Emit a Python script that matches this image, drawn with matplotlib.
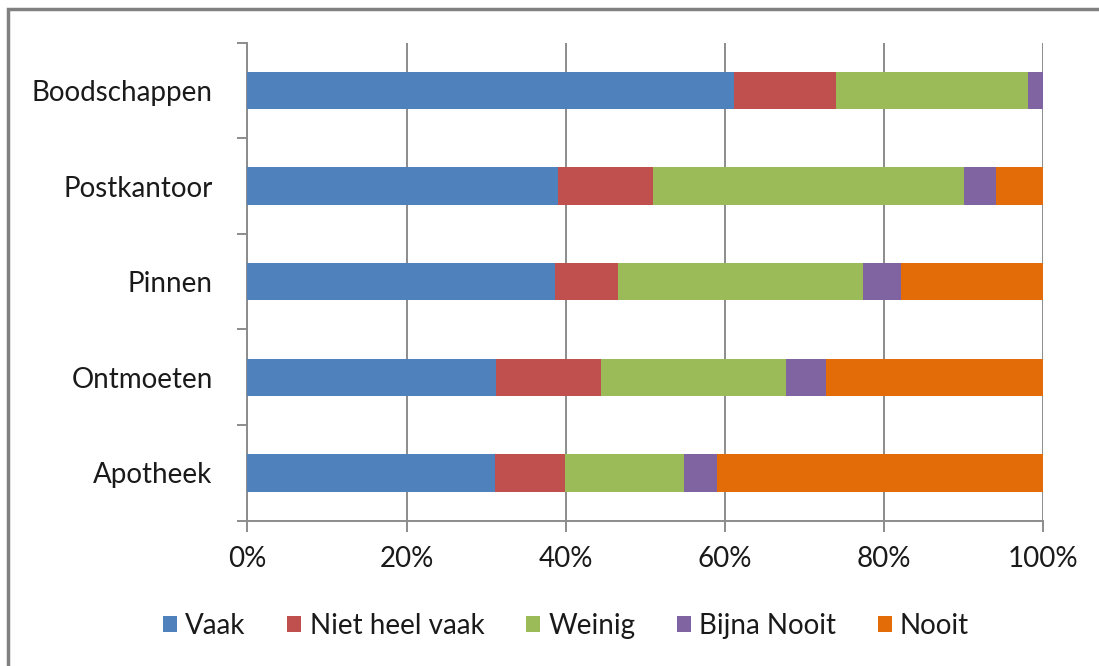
import matplotlib
matplotlib.use("Agg")
import matplotlib.pyplot as plt
from matplotlib.patches import Rectangle
import numpy as np

plt.rcParams['font.family'] = ['Lato', 'DejaVu Sans']

categories = ["Boodschappen", "Postkantoor", "Pinnen", "Ontmoeten", "Apotheek"]
series = ["Vaak", "Niet heel vaak", "Weinig", "Bijna Nooit", "Nooit"]
colors = ["#4F81BD", "#C0504D", "#9BBB59", "#8064A2", "#E36C09"]

vaak = [61.1, 39.0, 38.6, 31.2, 31.1]
niet_heel_vaak = [12.9, 12.0, 8.0, 13.2, 8.8]
weinig = [24.1, 39.1, 30.7, 23.3, 15.0]
bijna_nooit = [1.9, 3.9, 4.8, 5.0, 4.1]
nooit = [0.0, 6.0, 17.9, 27.3, 41.0]

data = np.array([vaak, niet_heel_vaak, weinig, bijna_nooit, nooit])
data = data / data.sum(axis=0) * 100

fig = plt.figure(figsize=(10.99, 6.66), dpi=100)
ax = fig.add_axes([0.2252, 0.2182, 0.9493 - 0.2252, 0.9359 - 0.2182])

y = np.arange(len(categories))
left = np.zeros(len(categories))
for vals, name, c in zip(data, series, colors):
    ax.barh(y, vals, left=left, height=0.39, color=c, label=name, zorder=3)
    left += vals

ax.set_xlim(0, 100)
ax.set_ylim(len(categories) - 0.5, -0.5)
ax.set_xticks(np.arange(0, 101, 20))
ax.set_xticklabels([f"{v}%" for v in range(0, 101, 20)], fontsize=20, color="#1a1a1a")
ax.set_yticks(y)
ax.set_yticklabels(categories, fontsize=20, color="#1a1a1a")
ax.set_yticks(np.arange(-0.5, len(categories), 1), minor=True)

ax.grid(axis="x", color="#8c8c8c", linewidth=1.4, zorder=0)
for s in ["top", "right"]:
    ax.spines[s].set_visible(False)
for s in ["left", "bottom"]:
    ax.spines[s].set_color("#8c8c8c")
    ax.spines[s].set_linewidth(1.4)
ax.tick_params(axis="y", which="major", length=0, pad=25)
ax.tick_params(axis="y", which="minor", length=7, width=1.4, color="#8c8c8c")
ax.tick_params(axis="x", length=8, width=1.4, color="#8c8c8c", pad=10)

leg = fig.legend(loc="center", bbox_to_anchor=(0.515, 0.06), ncol=5, frameon=False,
                 fontsize=20, handlelength=0.5, handleheight=0.5,
                 handletextpad=0.3, columnspacing=1.5)
for t in leg.get_texts():
    t.set_color("#1a1a1a")

# chart area border (only top and left are visible in the frame)
fig.patches.append(Rectangle((8 / 1099, -0.1), 1.2, 1 - 9 / 666 + 0.1,
                             transform=fig.transFigure, fill=False,
                             edgecolor="#808080", linewidth=2.5))

fig.savefig("out.png", dpi=100)
